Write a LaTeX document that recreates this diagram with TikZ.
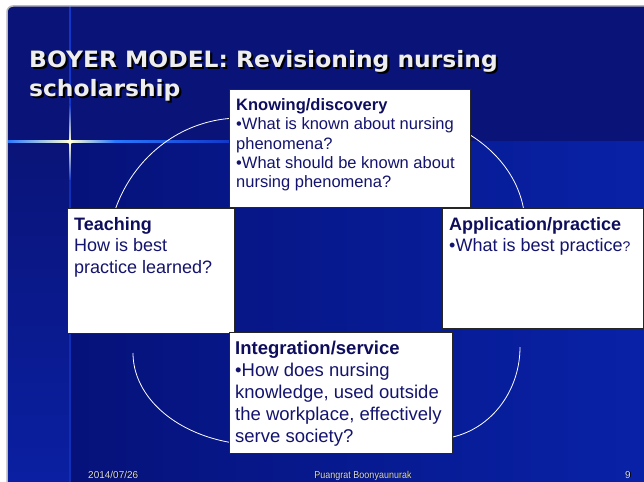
\documentclass[tikz,border=0pt]{standalone}
\usepackage{fontspec}
\setmainfont{Liberation Sans}
\newfontfamily\titlefont{DejaVu Sans}
\usepackage{graphicx}
\usetikzlibrary{calc}
\definecolor{navytop}{HTML}{0A1478}
\definecolor{navydark}{HTML}{06127A}
\definecolor{bluelight}{HTML}{0822A8}
\definecolor{stripbot}{HTML}{0A20A4}
\definecolor{txtblue}{HTML}{14146E}
\definecolor{headblue}{HTML}{0E0E5C}
\definecolor{glowblue}{HTML}{2A78FF}
\definecolor{linedark}{HTML}{1236C8}
\definecolor{glowcore}{HTML}{FFFFD8}
\definecolor{slideedge}{HTML}{B8B8B8}
\definecolor{foot}{HTML}{DCDCDC}
\definecolor{titlecol}{HTML}{EEEEEE}
\newcommand{\shadowed}[3]{\makebox[0pt][l]{\raisebox{-#1}{\hspace{#1}\textcolor{black}{#2}}}\textcolor{#3}{#2}}
\begin{document}
\begin{tikzpicture}[x=1pt,y=-1pt,
  box/.style={draw=black!85, line width=1pt, fill=white, inner sep=0pt, outer sep=0pt, anchor=north west},
  txt/.style={anchor=north west, inner sep=0pt, align=left, text=txtblue},
  ring/.style={draw=white, line width=0.8pt},
  titletxt/.style={anchor=base west, inner sep=0pt, font=\titlefont\bfseries\fontsize{22.5}{28.7}\selectfont},
  foottxt/.style={inner sep=0pt, font=\fontsize{10}{12}\selectfont}
]
\useasboundingbox (0,0) rectangle (644,481);
\fill[white] (0,0) rectangle (644,481);
% slide background
\begin{scope}
\clip[rounded corners=6] (7,6) rectangle (660,500);
\fill[navytop] (7,6) rectangle (660,500);
\shade[left color=navydark, right color=bluelight] (70,142) rectangle (660,500);
\shade[top color=navytop, bottom color=stripbot] (7,142) rectangle (70,500);
% vertical glow line
\fill[linedark] (69.3,6) rectangle (70.7,105);
\shade[top color=linedark, bottom color=glowcore] (69.2,105) rectangle (70.8,142);
\shade[top color=glowcore, bottom color=linedark] (69.2,142) rectangle (70.8,180);
\fill[linedark!80!navydark] (69.4,180) rectangle (70.6,500);
% horizontal glow line
\shade[left color=glowblue, right color=glowcore] (7,140.6) rectangle (70,142.8);
\shade[left color=glowcore, right color=glowblue] (70,140.6) rectangle (115,142.8);
\shade[left color=glowblue, right color=linedark] (115,140.8) rectangle (230,142.6);
\fill[glowcore, opacity=0.9] (70,141.7) ellipse (3 and 2.2);
\end{scope}
\draw[slideedge, line width=1.5pt, rounded corners=6] (7,6) rectangle (660,500);
% title
\node[titletxt] (t1) at (29,68) {\scalebox{1.04}[1]{\shadowed{2pt}{BOYER MODEL: Revisioning nursing}{titlecol}}};
\node[titletxt] (t2) at (29,97) {\scalebox{1.04}[1]{\shadowed{2pt}{scholarship}{titlecol}}};
% ring arcs
\draw[ring] plot[domain=180:270, samples=50, smooth] ({240+133*cos(\x)}, {258+140*sin(\x)});
\draw[ring] plot[domain=270:360, samples=50, smooth] ({380+145*cos(\x)}, {225+115*sin(\x)});
\draw[ring] plot[domain=90:180, samples=50, smooth] ({260+127*cos(\x)}, {353+92*sin(\x)});
\draw[ring] plot[domain=0:90, samples=50, smooth] ({435+85*cos(\x)}, {347+92*sin(\x)});
% boxes
\node[box, minimum width=241, minimum height=117] (know) at (229,90) {};
\node[box, minimum width=167, minimum height=125] (teach) at (67,208) {};
\node[box, minimum width=201, minimum height=120] (app) at (442,208) {};
\node[box, minimum width=223, minimum height=121] (integ) at (229,332) {};
% box texts
\node[txt, font=\fontsize{16.5}{19.3}\selectfont] (knowtxt) at ($(know.north west)+(7,8.5)$)
  {\textbf{\color{headblue}Knowing/discovery}\\
   •What is known about nursing\\
   phenomena?\\
   •What should be known about\\
   nursing phenomena?};
\node[txt, font=\fontsize{18}{21.5}\selectfont] (teachtxt) at ($(teach.north west)+(7,9)$)
  {\textbf{\color{headblue}Teaching}\\
   How is best\\
   practice learned?};
\node[txt, font=\fontsize{18}{21.5}\selectfont] (apptxt) at ($(app.north west)+(7,9)$)
  {\textbf{\color{headblue}Application/practice}\\
   •What is best practice{\fontsize{14}{16}\selectfont ?}};
\node[txt, font=\fontsize{18.5}{22}\selectfont] (integtxt) at ($(integ.north west)+(6,8.5)$)
  {\textbf{\color{headblue}Integration/service}\\
   •How does nursing\\
   knowledge, used outside\\
   the workplace, effectively\\
   serve society?};
% footer
\node[foottxt, anchor=base west] (f1) at (88,478) {\shadowed{0.8pt}{2014/07/26}{foot}};
\node[foottxt, anchor=base] (f2) at (363,478) {\scalebox{0.9}[1]{\shadowed{0.8pt}{Puangrat Boonyaunurak}{foot}}};
\node[foottxt, anchor=base] (f3) at (628,478) {\shadowed{0.8pt}{9}{foot}};
\end{tikzpicture}
\end{document}
